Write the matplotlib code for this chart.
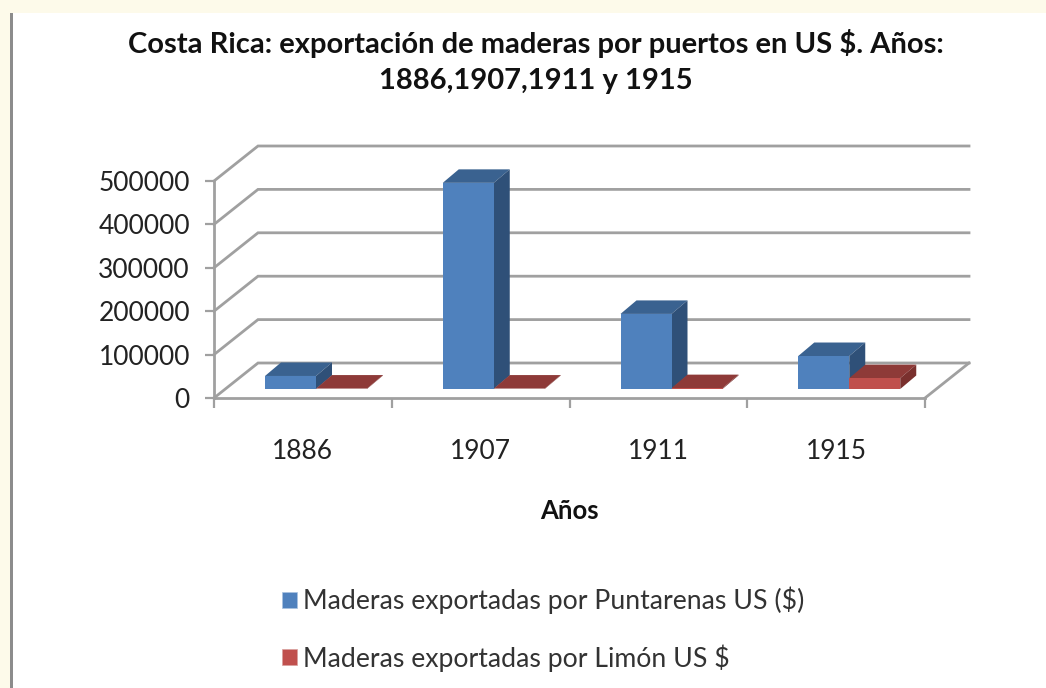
import matplotlib
matplotlib.use("Agg")
import matplotlib.pyplot as plt
from matplotlib.patches import Polygon, Patch, Rectangle

W = 1046
H = 688

# data
years = ["1886", "1907", "1911", "1915"]
puntarenas = [30000, 475000, 173000, 76000]
limon = [1000, 1000, 2000, 25000]
y_ticks = [0, 100000, 200000, 300000, 400000, 500000]

names = ["Maderas exportadas por Puntarenas US ($)", "Maderas exportadas por Limón US $"]
title = "Costa Rica: exportación de maderas por puertos en US $. Años:\n1886,1907,1911 y 1915"

plt.rcParams['font.family'] = ['Lato', 'DejaVu Sans']

fig = plt.figure(figsize=(W / 100, H / 100), dpi=100, facecolor="#fdfaea")

# white page with the grey rule on its left
fig.add_artist(Rectangle((13 / W, 0), 1 - 13 / W, 1 - 13 / H, transform=fig.transFigure, fc="white", ec="none", zorder=-2))
fig.add_artist(Rectangle((10 / W, 0), 3 / W, 1 - 13 / H, transform=fig.transFigure, fc="#8c8c8c", ec="none", zorder=-1))

# axes = the front plane of the 3d box
left, right, bottom, top = 214, 925, 398, 181
ax = fig.add_axes([left / W, 1 - bottom / H, (right - left) / W, (bottom - top) / H])
ax.patch.set_visible(False)
ax.set_xlim(-0.5, 3.5)
ax.set_ylim(0, 500000)

# pixel sizes turned into data units
px_x = 4 / (right - left)
px_y = 500000 / (bottom - top)
depth_x = 44 * px_x
depth_y = 35 * px_y
bar_dx = 16 * px_x
bar_dy = 13.5 * px_y
base = 9 * px_y
bar_w = 51 * px_x

grid = "#a0a0a0"


def box(x, h, front, side, roof):
    y0 = base
    y1 = base + h
    x1 = x + bar_w
    ax.add_patch(Polygon([(x, y1), (x1, y1), (x1 + bar_dx, y1 + bar_dy), (x + bar_dx, y1 + bar_dy)],
                         fc=roof, ec="none", clip_on=False, zorder=3))
    ax.add_patch(Polygon([(x1, y0), (x1 + bar_dx, y0 + bar_dy), (x1 + bar_dx, y1 + bar_dy), (x1, y1)],
                         fc=side, ec="none", clip_on=False, zorder=3))
    ax.add_patch(Polygon([(x, y0), (x1, y0), (x1, y1), (x, y1)],
                         fc=front, ec="none", clip_on=False, zorder=4))


# back wall, side wall and floor
for t in y_ticks:
    ax.plot([-0.5, -0.5 + depth_x, 3.5 + depth_x], [t, t + depth_y, t + depth_y],
            color=grid, lw=2, clip_on=False, zorder=1, solid_joinstyle="miter")
ax.plot([3.5, 3.5 + depth_x], [0, depth_y], color=grid, lw=2, clip_on=False, zorder=1)

for i in range(len(years)):
    box(i - 0.5 + (265 - 214) * px_x, puntarenas[i], "#4f81bd", "#2f5078", "#3a6290")
    box(i - 0.5 + (265 - 214) * px_x + bar_w, limon[i], "#c0504d", "#7a302e", "#8e3a38")

for s in ["top", "right"]:
    ax.spines[s].set_visible(False)
for s in ["left", "bottom"]:
    ax.spines[s].set_color(grid)
    ax.spines[s].set_linewidth(2)

ax.set_yticks(y_ticks)
ax.set_yticklabels([str(t) for t in y_ticks])
ax.set_xticks([-0.5, 0.5, 1.5, 2.5, 3.5])
ax.set_xticklabels([])
ax.set_xticks([0, 1, 2, 3], labels=years, minor=True)
ax.tick_params(axis="x", which="major", length=7, width=1.6, color=grid)
ax.tick_params(axis="x", which="minor", length=0, pad=29.7, labelsize=19, labelcolor="#222222")
ax.tick_params(axis="y", length=6.5, width=1.6, color=grid, pad=10.8, labelsize=19, labelcolor="#222222")
ax.set_xlabel("Años", fontsize=18.5, fontweight="bold", color="#111111", labelpad=25)

fig.text(536 / W, 1 - 61.5 / H, title, ha="center", va="center", fontsize=21, fontweight="bold",
         color="#111111", linespacing=1.5)

fig.legend(handles=[Patch(fc="#4f81bd", ec="#a9c3e0", lw=0.5), Patch(fc="#c0504d", ec="#d9a09e", lw=0.5)],
           labels=names, loc="upper left", bbox_to_anchor=(282 / W, 1 - 587 / H), frameon=False,
           fontsize=19.15, labelspacing=1.11, handlelength=0.58, handleheight=0.58, handletextpad=0.2,
           labelcolor="#333333", borderpad=0, borderaxespad=0)

fig.savefig("out.png", dpi=100, facecolor=fig.get_facecolor())
